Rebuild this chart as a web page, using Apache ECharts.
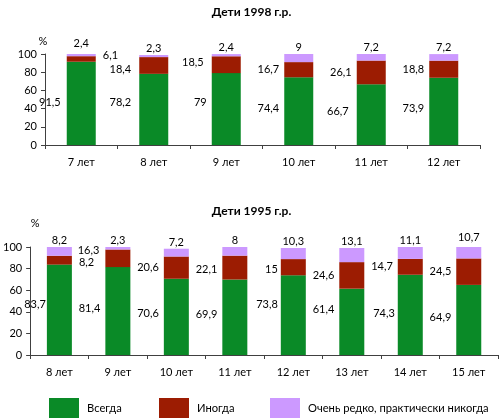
<!DOCTYPE html>
<html><head><meta charset="utf-8">
<script src="https://cdn.jsdelivr.net/npm/echarts@6/dist/echarts.min.js"></script>
<style>html,body{margin:0;padding:0;background:#fff}#c{width:503px;height:420px}</style>
</head><body><div id="c"></div>
<script>
var seriesNames = ['Всегда', 'Иногда', 'Очень редко, практически никогда'];
var colors = ['#0A8A27', '#9C1C02', '#CC99FF'];

var cats1998 = ['7 лет', '8 лет', '9 лет', '10 лет', '11 лет', '12 лет'];
var always1998 = [91.5, 78.2, 79, 74.4, 66.7, 73.9];
var sometimes1998 = [6.1, 18.4, 18.5, 16.7, 26.1, 18.8];
var rarely1998 = [2.4, 2.3, 2.4, 9, 7.2, 7.2];

var cats1995 = ['8 лет', '9 лет', '10 лет', '11 лет', '12 лет', '13 лет', '14 лет', '15 лет'];
var always1995 = [83.7, 81.4, 70.6, 69.9, 73.8, 61.4, 74.3, 64.9];
var sometimes1995 = [8.2, 16.3, 20.6, 22.1, 15, 24.6, 14.7, 24.5];
var rarely1995 = [8.2, 2.3, 7.2, 8, 10.3, 13.1, 11.1, 10.7];

var yTicks = [0, 20, 40, 60, 80, 100];

// small label nudges (pixels), separate from the data: [chart][series][categoryIndex] = [dx, dy]
var labelNudge = {
  a: { 0: { 0: [-1, 2], 1: [-3, -4], 2: [0, -4], 4: [-3, 0] }, 1: { 1: [-3, 4], 2: [-3, -2] }, 2: { 0: [0, -4] } },
  b: { 0: { 0: [4, -2], 4: [2, -8], 5: [0, -9], 6: [2, 2] }, 1: { 1: [-1, -8], 3: [0, 2], 4: [2, 2] }, 2: { 7: [0, -3] } }
};

var FONT = 'Lato, "Noto Sans", sans-serif';
function fmt(v) { return String(v).replace('.', ','); }

function mkData(vals, idx, stack) {
  var nudges = (labelNudge[stack] && labelNudge[stack][idx]) || {};
  return vals.map(function (v, i) {
    var d = { value: v };
    var base = idx === 0 ? [0, -3] : [0, 0];
    var n = nudges[i] || [0, 0];
    var lbl = { offset: [base[0] + n[0], base[1] + n[1]] };
    if (idx === 1 && i === 0) {
      lbl.position = 'right';
      lbl.distance = 7;
      lbl.offset = [0, stack === 'a' ? -4 : 2];
    }
    d.label = lbl;
    return d;
  });
}

function makeSeries(idx, vals, stack, xi, barW) {
  var pos = idx === 2 ? 'top' : 'left';
  return {
    name: seriesNames[idx], type: 'bar', stack: stack,
    xAxisIndex: xi, yAxisIndex: xi, barWidth: barW,
    itemStyle: { color: colors[idx] },
    data: mkData(vals, idx, stack),
    label: {
      show: true, position: pos, distance: idx === 2 ? 1 : 5,
      color: '#000', fontSize: 11, fontFamily: FONT,
      formatter: function (p) { return fmt(p.value); }
    }
  };
}

function yAxisCfg(gi, namePad, gap) {
  return {
    gridIndex: gi, type: 'value', min: 0, max: 100, interval: 20,
    name: '%', nameLocation: 'end', nameGap: gap,
    nameTextStyle: { color: '#000', fontSize: 11, fontFamily: FONT, padding: namePad },
    axisLine: { show: true, lineStyle: { color: '#404040' } },
    axisTick: { show: true, length: 4, lineStyle: { color: '#404040' } },
    splitLine: { show: false },
    axisLabel: { color: '#000', fontSize: 11, fontFamily: FONT, margin: 8,
      formatter: function (v) { return yTicks.indexOf(v) >= 0 ? String(v) : ''; } }
  };
}
function xAxisCfg(gi, cats) {
  return {
    gridIndex: gi, type: 'category', data: cats,
    axisLine: { lineStyle: { color: '#404040' } },
    axisTick: { show: true, length: 4, lineStyle: { color: '#404040' } },
    axisLabel: { color: '#000', fontSize: 11, fontFamily: FONT, margin: 12 }
  };
}

var chart = echarts.init(document.getElementById('c'), null, { renderer: 'canvas' });
var legendItem = function (i, left) {
  return {
    data: [seriesNames[i]], left: left, top: 398, padding: 0, itemWidth: 30, itemHeight: 20,
    icon: 'rect', selectedMode: false,
    textStyle: { color: '#000', fontSize: 11.2, fontFamily: FONT, padding: [0, 0, 0, 3] }
  };
};
chart.setOption({
  animation: false,
  title: [
    { text: 'Дети 1998 г.р.', left: 'center', top: 1,
      textStyle: { fontSize: 12, fontWeight: 'bold', color: '#000', fontFamily: FONT } },
    { text: 'Дети 1995 г.р.', left: 'center', top: 200,
      textStyle: { fontSize: 12, fontWeight: 'bold', color: '#000', fontFamily: FONT } }
  ],
  legend: [legendItem(0, 49), legendItem(1, 159), legendItem(2, 270)],
  grid: [
    { left: 45, right: 23, top: 54, bottom: 275 },
    { left: 30, right: 5, top: 247, bottom: 65 }
  ],
  xAxis: [xAxisCfg(0, cats1998), xAxisCfg(1, cats1995)],
  yAxis: [yAxisCfg(0, [0, 4, 0, 0], 7), yAxisCfg(1, [0, 0, 0, 10], 18)],
  series: [
    makeSeries(0, always1998, 'a', 0, 29),
    makeSeries(1, sometimes1998, 'a', 0, 29),
    makeSeries(2, rarely1998, 'a', 0, 29),
    makeSeries(0, always1995, 'b', 1, 25),
    makeSeries(1, sometimes1995, 'b', 1, 25),
    makeSeries(2, rarely1995, 'b', 1, 25)
  ]
});
</script>
</body></html>
